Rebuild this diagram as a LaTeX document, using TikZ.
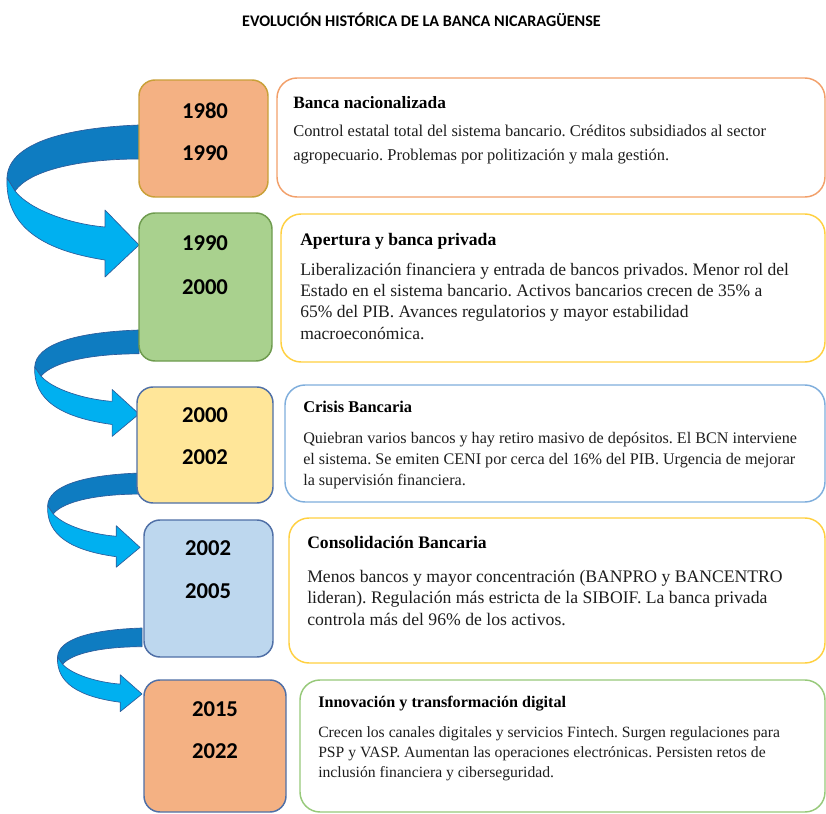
\documentclass[tikz,border=0pt]{standalone}
\usepackage{fontspec}
\setmainfont{Liberation Serif}
\newfontfamily\calib{Carlito}
\usetikzlibrary{fit}
\frenchspacing
\definecolor{ribdark}{HTML}{0E7CC1}
\definecolor{riblight}{HTML}{00B0F0}
\definecolor{ribline}{HTML}{2E5C9A}
\definecolor{forange}{HTML}{F4B183}
\definecolor{fgreen}{HTML}{A9D18E}
\definecolor{fyellow}{HTML}{FFE699}
\definecolor{fblue}{HTML}{BDD7EE}
\definecolor{bgold}{HTML}{C9A038}
\definecolor{bgreen}{HTML}{6E9B4E}
\definecolor{bslate}{HTML}{4F6FA6}
\definecolor{torange}{HTML}{F2A06A}
\definecolor{tyellow}{HTML}{FFD040}
\definecolor{tblue}{HTML}{7FAEDC}
\definecolor{tgreen}{HTML}{97C97A}
\definecolor{txt}{HTML}{1E1E1E}
\newcommand\ribbonarrow[4]{%
\begin{scope}[shift={(#1,#2)},xscale=#3,yscale=#4]
\draw[ribbon, fill=ribdark] (0,0) .. controls (-79,3) and (-131,20) .. (-132,53) -- (-124,66) .. controls (-109,45) and (-59,34) .. (0,34) -- cycle;
\draw[ribbon, fill=riblight] (-132,53) -- (-124,66) .. controls (-109,85) and (-69,99) .. (-34,102) -- (-34,85) -- (0,120) -- (-34,152) -- (-34,135) .. controls (-99,125) and (-134,100) .. (-132,53) -- cycle;
\end{scope}}
\begin{document}
\begin{tikzpicture}[x=0.75pt,y=-0.75pt,
  ribbon/.style={draw=ribline, line width=0.5pt, line join=round},
  ybox/.style={line width=1.1pt, rounded corners=12pt, inner sep=0pt},
  tbox/.style={line width=1.1pt, rounded corners=15pt, inner sep=0pt, fill=white},
  yr/.style={font=\calib\bfseries\fontsize{17}{20}\selectfont, anchor=base, inner sep=0pt, text=black},
  hd/.style={anchor=base west, inner sep=0pt, text=black},
  bd/.style={anchor=base west, inner sep=0pt, align=left, text=txt}]
\useasboundingbox (0,0) rectangle (826,814);
\node[font=\calib\bfseries\fontsize{12.1}{14}\selectfont, anchor=base, inner sep=0pt] (title) at (421.5,26) {EVOLUCIÓN HISTÓRICA DE LA BANCA NICARAGÜENSE};
% arrows
\ribbonarrow{139}{125}{1}{1}
\ribbonarrow{139}{330}{0.79}{0.70}
\ribbonarrow{140}{473}{0.70}{0.62}
\ribbonarrow{142}{628}{0.64}{0.55}
% year boxes
\node[ybox, fill=forange, draw=bgold, fit={(139,80) (268,197)}] (y1) {};
\node[ybox, fill=fgreen, draw=bgreen, fit={(139,213) (272,361)}] (y2) {};
\node[ybox, fill=fyellow, draw=bslate, fit={(137,387) (273,503)}] (y3) {};
\node[ybox, fill=fblue, draw=bslate, fit={(144,520) (273,657)}] (y4) {};
\node[ybox, fill=forange, draw=bslate, fit={(144,680) (286,812)}] (y5) {};
\node[yr] (y1a) at (205,118) {1980};
\node[yr] (y1b) at (205,160) {1990};
\node[yr] (y2a) at (205,250) {1990};
\node[yr] (y2b) at (205,294) {2000};
\node[yr] (y3a) at (205,422) {2000};
\node[yr] (y3b) at (205,464) {2002};
\node[yr] (y4a) at (208,555) {2002};
\node[yr] (y4b) at (208,598) {2005};
\node[yr] (y5a) at (215,716) {2015};
\node[yr] (y5b) at (215,758) {2022};
% text boxes
\node[tbox, draw=torange, fit={(277,78) (825,197)}] (t1) {};
\node[tbox, draw=tyellow, fit={(281,214) (825,362)}] (t2) {};
\node[tbox, draw=tblue, fit={(285,385) (825,502)}] (t3) {};
\node[tbox, draw=tyellow, fit={(289,518) (825,663)}] (t4) {};
\node[tbox, draw=tgreen, fit={(300,680) (825,812)}] (t5) {};
% texts (base anchor = baseline of the last line)
\node[hd, font=\bfseries\fontsize{13}{16}\selectfont] (h1) at (293,108) {Banca nacionalizada};
\node[bd, font=\fontsize{12.35}{18}\selectfont] (b1) at (293,160) {Control estatal total del sistema bancario. Créditos subsidiados al sector\\agropecuario. Problemas por politización y mala gestión.};
\node[hd, font=\bfseries\fontsize{13.2}{16}\selectfont] (h2) at (300,245) {Apertura y banca privada};
\node[bd, font=\fontsize{13.15}{16}\selectfont] (b2) at (300,339) {Liberalización financiera y entrada de bancos privados. Menor rol del\\Estado en el sistema bancario. Activos bancarios crecen de 35\% a\\65\% del PIB. Avances regulatorios y mayor estabilidad\\macroeconómica.};
\node[hd, font=\bfseries\fontsize{12.3}{15}\selectfont] (h3) at (303,412) {Crisis Bancaria};
\node[bd, font=\fontsize{12.1}{15.75}\selectfont] (b3) at (303,485) {Quiebran varios bancos y hay retiro masivo de depósitos. El BCN interviene\\el sistema. Se emiten CENI por cerca del 16\% del PIB. Urgencia de mejorar\\la supervisión financiera.};
\node[hd, font=\bfseries\fontsize{13.2}{16}\selectfont] (h4) at (307,548) {Consolidación Bancaria};
\node[bd, font=\fontsize{13.25}{16.1}\selectfont] (b4) at (307,625) {Menos bancos y mayor concentración (BANPRO y BANCENTRO\\lideran). Regulación más estricta de la SIBOIF. La banca privada\\controla más del 96\% de los activos.};
\node[hd, font=\bfseries\fontsize{12.1}{15}\selectfont] (h5) at (318,707) {Innovación y transformación digital};
\node[bd, font=\fontsize{11.75}{15}\selectfont] (b5) at (318,777) {Crecen los canales digitales y servicios Fintech. Surgen regulaciones para\\PSP y VASP. Aumentan las operaciones electrónicas. Persisten retos de\\inclusión financiera y ciberseguridad.};
\end{tikzpicture}
\end{document}
